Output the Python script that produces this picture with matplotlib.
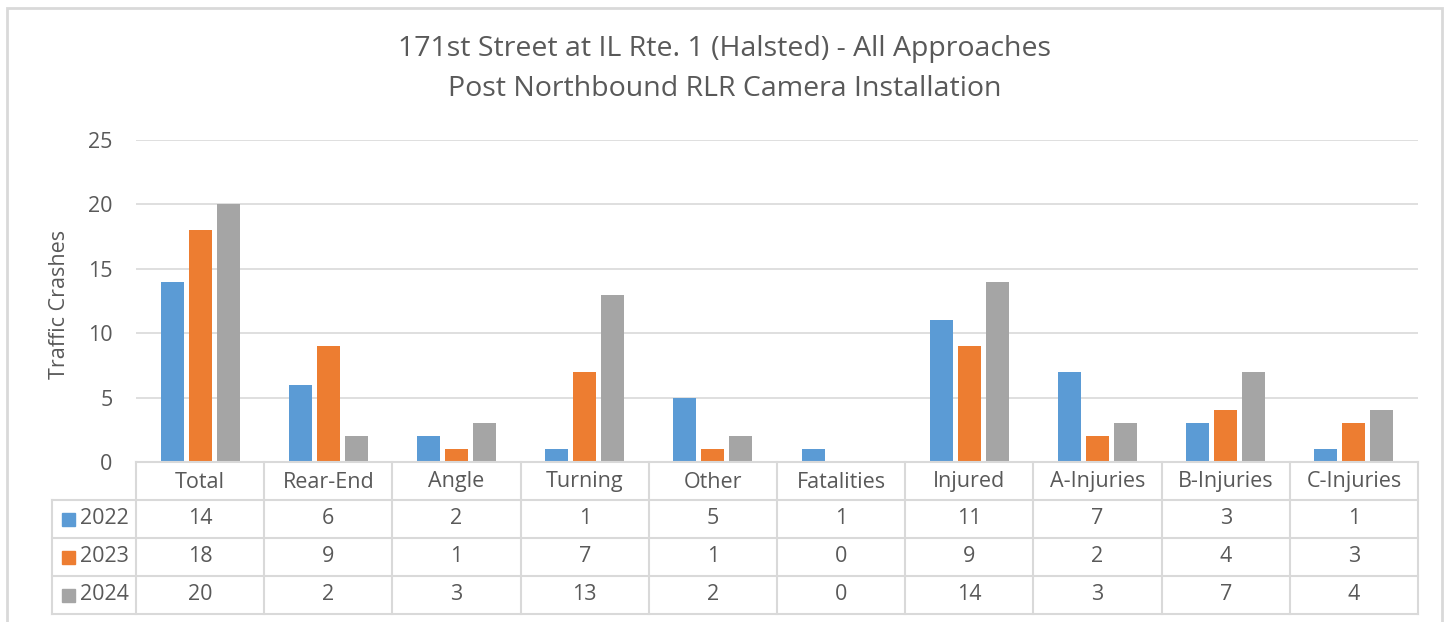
import numpy as np
import matplotlib.pyplot as plt
from matplotlib.transforms import blended_transform_factory
from matplotlib.patches import Rectangle

plt.rcParams['font.family'] = ['Open Sans', 'DejaVu Sans']

# -----------------------------
# Data
# -----------------------------
categories = ["Total", "Rear-End", "Angle", "Turning", "Other", "Fatalities",
              "Injured", "A-Injuries", "B-Injuries", "C-Injuries"]
years = ["2022", "2023", "2024"]
crashes_2022 = [14, 6, 2, 1, 5, 1, 11, 7, 3, 1]
crashes_2023 = [18, 9, 1, 7, 1, 0, 9, 2, 4, 3]
crashes_2024 = [20, 2, 3, 13, 2, 0, 14, 3, 7, 4]
series = [crashes_2022, crashes_2023, crashes_2024]
colors = ["#5b9bd5", "#ed7d31", "#a5a5a5"]

title = "171st Street at IL Rte. 1 (Halsted) - All Approaches\nPost Northbound RLR Camera Installation"
text_color = "#595959"
grid_color = "#d9d9d9"

W, H = 1450, 622
fig = plt.figure(figsize=(W / 100, H / 100), dpi=100)

def fy(py):
    return 1 - py / H

def fx(px):
    return px / W

# outer chart border
fig.patches.append(Rectangle((fx(7), fy(640)), fx(1442) - fx(7), fy(8) - fy(640),
                             transform=fig.transFigure, fill=False,
                             edgecolor=grid_color, lw=2))

# -----------------------------
# Plot area
# -----------------------------
left, right, top, bottom = 136, 1418, 140, 462
ax = fig.add_axes([fx(left), fy(bottom), fx(right) - fx(left), fy(top) - fy(bottom)])

x = np.arange(len(categories))
bw = 0.18
step = 0.218
for i, (vals, c) in enumerate(zip(series, colors)):
    ax.bar(x + (i - 1) * step, vals, width=bw, color=c, zorder=3)

ax.set_xlim(-0.5, len(categories) - 0.5)
ax.set_ylim(0, 25)
ax.set_yticks([0, 5, 10, 15, 20, 25])
ax.yaxis.grid(True, color=grid_color, lw=1.2, zorder=0)
ax.set_xticks([])
for s in ax.spines.values():
    s.set_visible(False)
ax.tick_params(axis='y', length=0, labelsize=15.5, labelcolor=text_color, pad=17)
ax.set_ylabel("Traffic Crashes", fontsize=15.5, color=text_color)
ax.yaxis.set_label_coords((70 - left) / (right - left), 0.49)

fig.text(0.5, fy(69), title, ha='center', va='center', fontsize=20.5,
         color=text_color, linespacing=1.55)

# -----------------------------
# Data table
# -----------------------------
tr = blended_transform_factory(ax.transData, fig.transFigure)
row_edges = [462, 500, 538, 576, 614]
legend_left = 52
lw_tab = 1.5

fig.add_artist(plt.Line2D([fx(left), fx(right)], [fy(row_edges[0])] * 2,
                          transform=fig.transFigure, color=grid_color, lw=lw_tab))
for ry in row_edges[1:]:
    fig.add_artist(plt.Line2D([fx(legend_left), fx(right)], [fy(ry)] * 2,
                              transform=fig.transFigure, color=grid_color, lw=lw_tab))
for k in range(len(categories) + 1):
    fig.add_artist(plt.Line2D([k - 0.5, k - 0.5], [fy(row_edges[0]), fy(row_edges[-1])],
                              transform=tr, color=grid_color, lw=lw_tab))
fig.add_artist(plt.Line2D([fx(legend_left)] * 2, [fy(row_edges[1]), fy(row_edges[-1])],
                          transform=fig.transFigure, color=grid_color, lw=lw_tab))

fs = 15.5
for j, cat in enumerate(categories):
    fig.text(j, fy((row_edges[0] + row_edges[1]) / 2 + 1), cat, transform=tr,
             ha='center', va='center', fontsize=fs, color=text_color)
for r, (yr, vals, c) in enumerate(zip(years, series, colors)):
    yc = fy((row_edges[r + 1] + row_edges[r + 2]) / 2)
    fig.patches.append(Rectangle((fx(62), yc - 6.5 / H), 13 / W, 13 / H,
                                 transform=fig.transFigure, color=c))
    fig.text(fx(80), yc, yr, ha='left', va='center', fontsize=fs, color=text_color)
    for j, v in enumerate(vals):
        fig.text(j, yc, str(v), transform=tr, ha='center', va='center',
                 fontsize=fs, color=text_color)

fig.savefig("out.png", dpi=100)
